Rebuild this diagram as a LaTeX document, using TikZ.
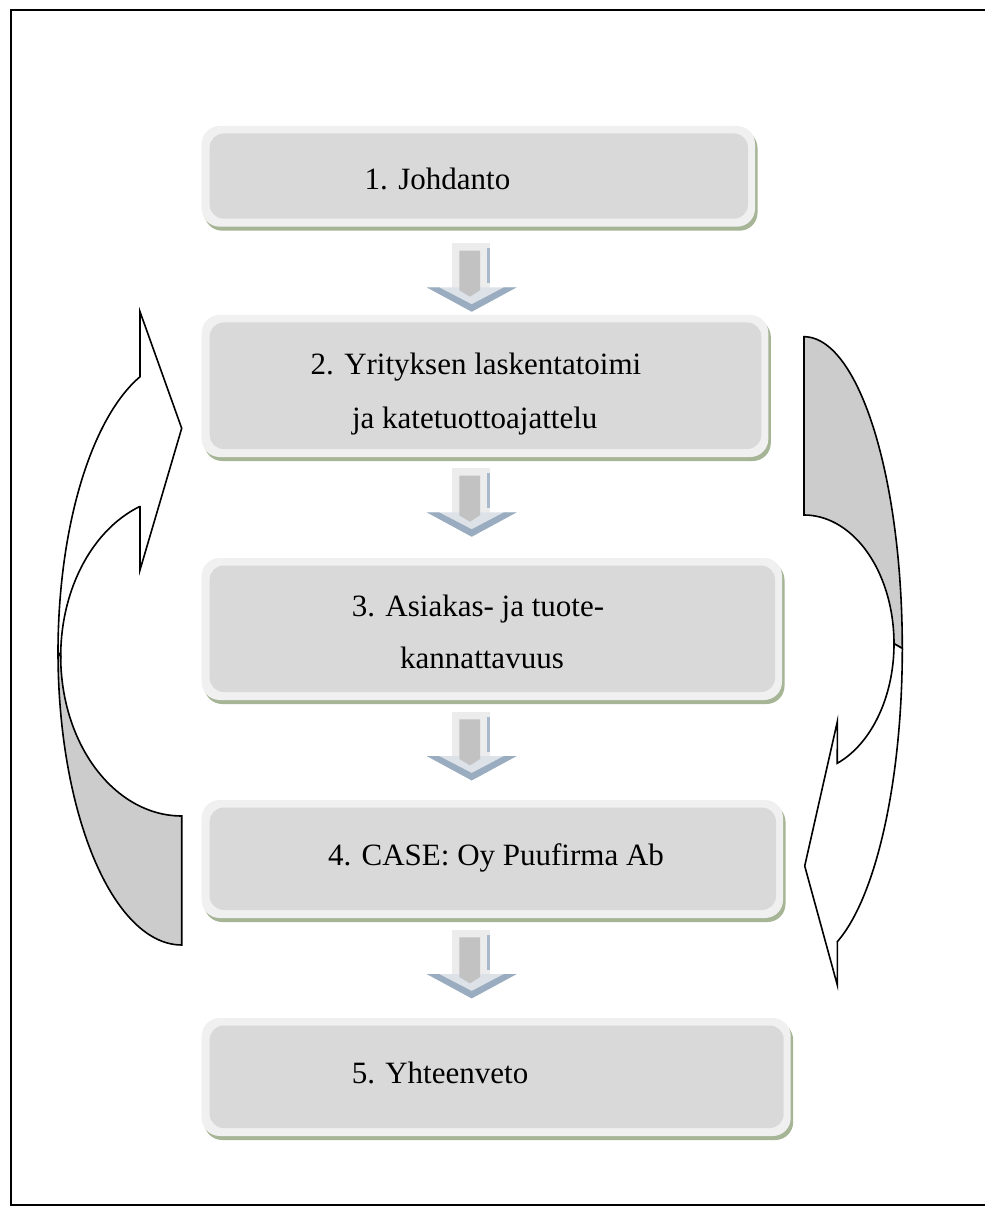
\documentclass[tikz,border=0pt]{standalone}
\usepackage{fontspec}
\setmainfont{Liberation Serif}
\definecolor{boxouter}{HTML}{F0F0F0}
\definecolor{boxinner}{HTML}{D9D9D9}
\definecolor{boxshadow}{HTML}{A6B596}
\definecolor{backgray}{HTML}{CCCCCC}
\definecolor{shaftgray}{HTML}{C2C2C2}
\definecolor{shaftlight}{HTML}{ECECEC}
\definecolor{headblue}{HTML}{9AACC0}
\definecolor{headlight}{HTML}{DDE2E8}
\definecolor{edgeblue}{HTML}{A9B9CC}
\newcommand{\flowbox}[5]{%
  \fill[boxshadow, rounded corners=9pt] (#2+2.5,#3+4) rectangle (#4+2.5,#5+4);
  \fill[boxouter, rounded corners=9pt] (#2,#3) rectangle (#4,#5);
  \fill[boxinner, rounded corners=7pt] (#2+8,#3+7.5) rectangle (#4-7,#5-8);
  \coordinate (#1) at ({(#2+#4)/2},{(#3+#5)/2});
}
\newcommand{\blockdown}[2]{%
  \coordinate (#1) at (471.7,#2);
  \fill[shaftlight] (451.7,#2) rectangle (490,#2+46);
  \fill[edgeblue] (486.5,#2+5) rectangle (490,#2+40);
  \fill[headlight] (426.7,#2+44) -- (516.7,#2+44) -- (471.7,#2+68.4) -- cycle;
  \fill[headblue] (426.7,#2+44) -- (471.7,#2+68.4) -- (516.7,#2+44) -- (504,#2+44)
     -- (471.7,#2+61) -- (439,#2+44) -- cycle;
  \fill[shaftgray] (459.3,#2+7.4) -- (480,#2+7.4) -- (480,#2+47) -- (470,#2+53.4)
     -- (459.3,#2+47) -- cycle;
}
\tikzset{
  lbl/.style={anchor=base, inner sep=0pt, font=\fontsize{15.5}{19}\selectfont},
  curved/.style={draw=black, line width=0.8pt, line join=miter},
}
\begin{document}
\begin{tikzpicture}[x=0.5pt, y=-0.5pt]
\useasboundingbox (0,0) rectangle (984,1213);
\fill[white] (0,0) rectangle (984,1213);
\draw[line width=1.2pt] (11,10) rectangle (992,1205);

% boxes
\flowbox{b1}{201.7}{126}{755}{226.7}
\flowbox{b2}{201.7}{315}{768.3}{457}
\flowbox{b3}{201.7}{558}{782}{700}
\flowbox{b4}{201.7}{800}{783}{918}
\flowbox{b5}{201.7}{1018}{790.7}{1136}

% texts
\node[lbl] (t1) at (437.5,190) {1. Johdanto};
\node[lbl] (t2a) at (476,375) {2. Yrityksen laskentatoimi};
\node[lbl] (t2b) at (474.7,428.3) {ja katetuottoajattelu};
\node[lbl] (t3a) at (478,616.7) {3. Asiakas- ja tuote-};
\node[lbl] (t3b) at (482,668) {kannattavuus};
\node[lbl] (t4) at (496,865.5) {4. CASE: Oy Puufirma Ab};
\node[lbl] (t5) at (440,1083) {5. Yhteenveto};

% block arrows between boxes
\blockdown{a1}{243.3}
\blockdown{a2}{468.3}
\blockdown{a3}{712}
\blockdown{a4}{930}

% left curved arrow (pointing up-right)
\filldraw[curved, fill=backgray]
  plot[domain=180:90, samples=50] ({181.7+123.7*cos(\x)}, {652.3+292.7*sin(\x)})
  -- (181.7,816)
  -- plot[domain=90:180, samples=50] ({181.7+121*cos(\x)}, {656.3+159.7*sin(\x)})
  -- cycle;
\filldraw[curved, fill=white]
  (140,311.7) -- (181.7,428.3) -- (140,570) -- (140,506.7)
  -- plot[domain=249.4:180, samples=50] ({181.7+121*cos(\x)}, {656.3+159.7*sin(\x)})
  -- plot[domain=180:250.3, samples=50] ({181.7+123.7*cos(\x)}, {652.3+292.7*sin(\x)})
  -- cycle;

% right curved arrow (pointing down-left)
\filldraw[curved, fill=backgray]
  plot[domain=-90:0, samples=50] ({804+98.3*cos(\x)}, {648.4+311.7*sin(\x)})
  -- plot[domain=0:-90, samples=50] ({804+90*cos(\x)}, {643.7+128.7*sin(\x)})
  -- cycle;
\filldraw[curved, fill=white]
  plot[domain=0:68.3, samples=50] ({804+90*cos(\x)}, {643.7+128.7*sin(\x)})
  -- (837.3,721.7) -- (804.7,866) -- (837.3,985) -- (837.3,941.7)
  -- plot[domain=70.2:0, samples=50] ({804+98.3*cos(\x)}, {648.4+311.7*sin(\x)})
  -- cycle;
\end{tikzpicture}
\end{document}
